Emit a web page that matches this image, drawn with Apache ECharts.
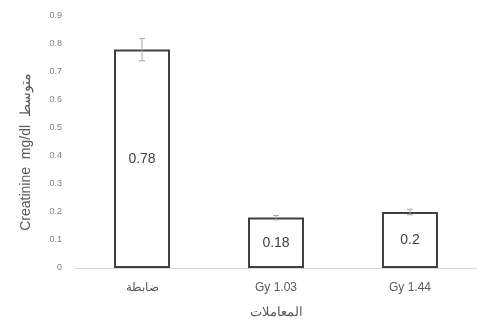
<!DOCTYPE html>
<html><head><meta charset="utf-8">
<script src="https://cdn.jsdelivr.net/npm/echarts@6/dist/echarts.min.js"></script>
<style>html,body{margin:0;padding:0;background:#fff}#c{width:477px;height:321px}</style>
</head><body><div id="c"></div>
<script>
const categories = ["ضابطة", "Gy 1.03", "Gy 1.44"];
const values = [0.78, 0.18, 0.2];
const errors = [0.04, 0.008, 0.01];
const yTicks = [0, 0.1, 0.2, 0.3, 0.4, 0.5, 0.6, 0.7, 0.8, 0.9];
const yAxisTitle = "Creatinine  mg/dl  متوسط";
const xAxisTitle = "المعاملات";

const font = "'Liberation Sans', 'Noto Sans', sans-serif";
const chart = echarts.init(document.getElementById('c'));
chart.setOption({
  animation: false,
  grid: { left: 75, right: 0, top: 16, bottom: 53, outerBoundsMode: 'none', containLabel: false },
  xAxis: {
    type: 'category', data: categories,
    name: xAxisTitle, nameLocation: 'middle', nameGap: 38,
    nameTextStyle: { color: '#595959', fontSize: 13, fontFamily: font },
    axisLine: { lineStyle: { color: '#d9d9d9', width: 1 } },
    axisTick: { show: false },
    axisLabel: { color: '#595959', fontSize: 12, fontFamily: font, margin: 14 }
  },
  yAxis: {
    type: 'value', min: 0, max: yTicks[yTicks.length - 1], interval: 0.1,
    name: yAxisTitle, nameLocation: 'middle', nameRotate: 90, nameGap: 42,
    nameTextStyle: { color: '#595959', fontSize: 14, fontFamily: font, padding: [0, 20, 0, 0] },
    axisLine: { show: false }, axisTick: { show: false },
    splitLine: { show: false },
    axisLabel: { color: '#7f7f7f', fontSize: 9, fontFamily: font, margin: 13,
      formatter: v => yTicks.includes(Math.round(v * 10) / 10) ? String(Math.round(v * 10) / 10) : '' }
  },
  series: [{
    type: 'bar', data: values, barWidth: 56,
    itemStyle: { color: '#ffffff', borderColor: '#404040', borderWidth: 2 },
    label: { show: true, position: 'inside', color: '#404040', fontSize: 14, fontFamily: font }
  }, {
    type: 'custom',
    data: values.map((v, i) => [i, v - errors[i], v + errors[i]]),
    renderItem: (params, api) => {
      const lo = api.coord([api.value(0), api.value(1)]);
      const hi = api.coord([api.value(0), api.value(2)]);
      const x = lo[0], w = 3;
      const style = { stroke: '#a6a6a6', lineWidth: 1 };
      return { type: 'group', children: [
        { type: 'line', shape: { x1: x, y1: lo[1], x2: x, y2: hi[1] }, style },
        { type: 'line', shape: { x1: x - w, y1: hi[1], x2: x + w, y2: hi[1] }, style },
        { type: 'line', shape: { x1: x - w, y1: lo[1], x2: x + w, y2: lo[1] }, style }
      ]};
    },
    z: 5
  }]
});
</script></body></html>
